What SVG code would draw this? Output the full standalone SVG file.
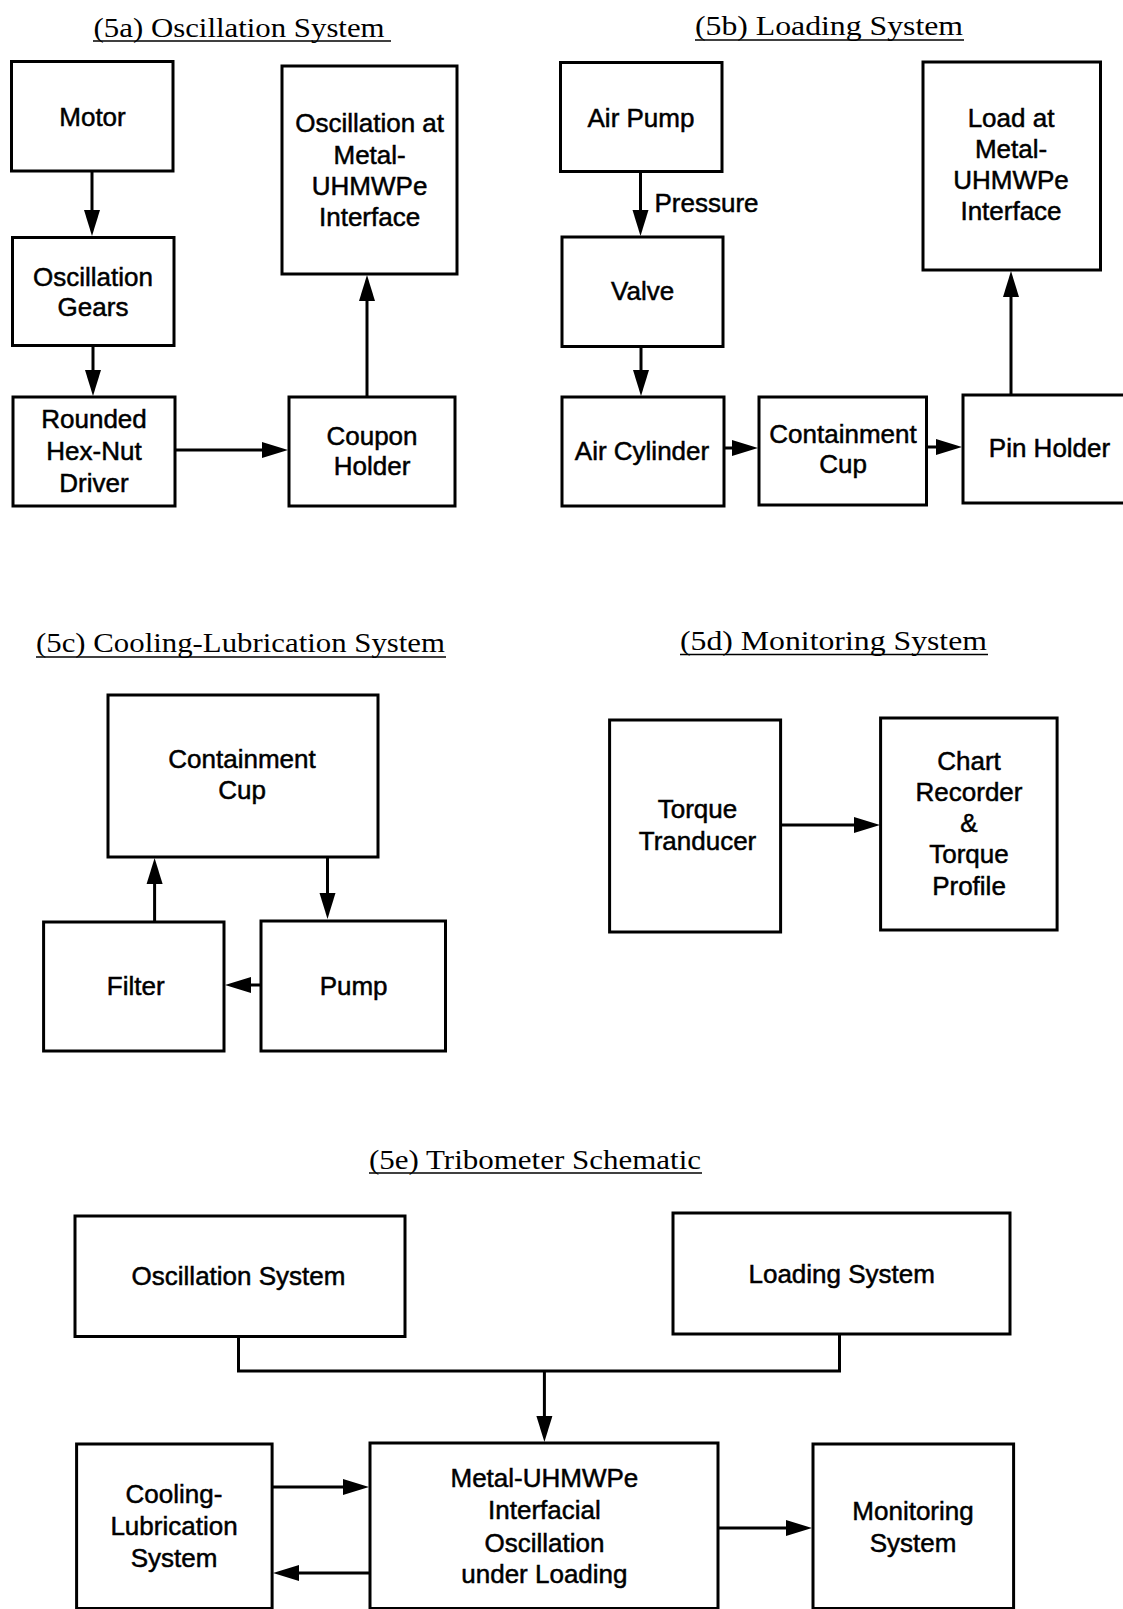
<svg xmlns="http://www.w3.org/2000/svg" width="1123" height="1609" viewBox="0 0 1123 1609">
<style>
.bg{fill:#fff}
.box{fill:#fff;stroke:#000;stroke-width:3}
.t{font-family:"Liberation Sans",Arial,Helvetica,sans-serif;font-size:26px;fill:#000;stroke:#000;stroke-width:0.5;text-anchor:middle}
.ts{font-family:"Liberation Sans",Arial,Helvetica,sans-serif;font-size:26px;fill:#000;stroke:#000;stroke-width:0.5}
.title{font-family:"Liberation Serif","Times New Roman",serif;font-size:27px;fill:#000}
.ul{stroke:#000;stroke-width:1.6}
.c{fill:none;stroke:#000;stroke-width:3}
.a{fill:none;stroke:#000;stroke-width:3;marker-end:url(#ah)}
</style>
<defs>
<marker id="ah" markerUnits="userSpaceOnUse" markerWidth="26" markerHeight="17" refX="6" refY="8.5" orient="auto">
<path d="M0,0.5 L26,8.5 L0,16.5 z" fill="#000"/>
</marker>
</defs>
<rect class="bg" x="0" y="0" width="1123" height="1609"/>

<g id="titles">
<text class="title" x="93.6" y="37" textLength="291" lengthAdjust="spacingAndGlyphs">(5a) Oscillation System</text>
<line class="ul" x1="93" y1="41" x2="391" y2="41"/>
<text class="title" x="695" y="35" textLength="268" lengthAdjust="spacingAndGlyphs">(5b) Loading System</text>
<line class="ul" x1="695" y1="40" x2="964" y2="40"/>
<text class="title" x="36" y="652" textLength="409" lengthAdjust="spacingAndGlyphs">(5c) Cooling-Lubrication System</text>
<line class="ul" x1="36" y1="657" x2="446" y2="657"/>
<text class="title" x="680" y="650" textLength="307" lengthAdjust="spacingAndGlyphs">(5d) Monitoring System</text>
<line class="ul" x1="680" y1="654.5" x2="988" y2="654.5"/>
<text class="title" x="369" y="1169" textLength="332" lengthAdjust="spacingAndGlyphs">(5e) Tribometer Schematic</text>
<line class="ul" x1="369" y1="1173" x2="702" y2="1173"/>
</g>

<!-- 5a -->
<g id="motor"><rect class="box" x="11.5" y="61.5" width="161.5" height="109.5"/><text class="t" x="92.5" y="126">Motor</text></g>
<g id="osc-gears"><rect class="box" x="12.5" y="237.5" width="161.5" height="108"/><text class="t" x="93" y="286">Oscillation</text><text class="t" x="93" y="316">Gears</text></g>
<g id="hex-nut"><rect class="box" x="13" y="397" width="162" height="109"/><text class="t" x="94" y="428">Rounded</text><text class="t" x="94" y="460">Hex-Nut</text><text class="t" x="94" y="491.5">Driver</text></g>
<g id="coupon"><rect class="box" x="289" y="397" width="166" height="109"/><text class="t" x="372" y="445">Coupon</text><text class="t" x="372" y="475">Holder</text></g>
<g id="osc-interface"><rect class="box" x="282" y="66" width="175" height="208"/><text class="t" x="369.6" y="131.7">Oscillation at</text><text class="t" x="369.6" y="164">Metal-</text><text class="t" x="369.6" y="195">UHMWPe</text><text class="t" x="369.6" y="226">Interface</text></g>

<!-- 5b -->
<g id="air-pump"><rect class="box" x="560.5" y="62.5" width="161.5" height="109"/><text class="t" x="641" y="126.7">Air Pump</text></g>
<g id="valve"><rect class="box" x="562" y="237" width="161" height="109.5"/><text class="t" x="642.6" y="300">Valve</text></g>
<g id="air-cylinder"><rect class="box" x="562" y="397" width="162" height="109"/><text class="t" x="642" y="460">Air Cylinder</text></g>
<g id="containment-b"><rect class="box" x="759" y="397" width="167.5" height="108"/><text class="t" x="843" y="443">Containment</text><text class="t" x="843" y="473">Cup</text></g>
<g id="pin-holder"><rect class="box" x="963" y="395" width="170" height="108"/><text class="t" x="1049.5" y="457">Pin Holder</text></g>
<g id="load-interface"><rect class="box" x="923" y="62" width="177.5" height="208"/><text class="t" x="1011" y="126.7">Load at</text><text class="t" x="1011" y="158">Metal-</text><text class="t" x="1011" y="189">UHMWPe</text><text class="t" x="1011" y="220">Interface</text></g>

<!-- 5c -->
<g id="containment-c"><rect class="box" x="108" y="695" width="270" height="162"/><text class="t" x="242" y="768">Containment</text><text class="t" x="242" y="799">Cup</text></g>
<g id="pump"><rect class="box" x="261" y="921" width="184.5" height="130"/><text class="t" x="353.6" y="995">Pump</text></g>
<g id="filter"><rect class="box" x="43.6" y="922" width="180.4" height="129"/><text class="t" x="135.7" y="995">Filter</text></g>

<!-- 5d -->
<g id="torque-transducer"><rect class="box" x="609.6" y="720" width="171" height="212"/><text class="t" x="697.5" y="818">Torque</text><text class="t" x="697.5" y="850">Tranducer</text></g>
<g id="chart-recorder"><rect class="box" x="880.6" y="718" width="176.5" height="212"/><text class="t" x="969" y="770">Chart</text><text class="t" x="969" y="801">Recorder</text><text class="t" x="969" y="832">&amp;</text><text class="t" x="969" y="863">Torque</text><text class="t" x="969" y="895">Profile</text></g>

<!-- 5e -->
<g id="oscillation-system"><rect class="box" x="75" y="1216" width="330" height="120.5"/><text class="t" x="238.5" y="1285">Oscillation System</text></g>
<g id="loading-system"><rect class="box" x="673" y="1213" width="337" height="121"/><text class="t" x="841.7" y="1283">Loading System</text></g>
<g id="interfacial"><rect class="box" x="370" y="1443" width="348" height="165.5"/><text class="t" x="544.4" y="1487">Metal-UHMWPe</text><text class="t" x="544.4" y="1519">Interfacial</text><text class="t" x="544.4" y="1552">Oscillation</text><text class="t" x="544.4" y="1583">under Loading</text></g>
<g id="cooling-lubrication"><rect class="box" x="76.6" y="1444" width="195.5" height="164.5"/><text class="t" x="174" y="1503">Cooling-</text><text class="t" x="174" y="1535">Lubrication</text><text class="t" x="174" y="1567">System</text></g>
<g id="monitoring-system"><rect class="box" x="813" y="1444" width="200.6" height="164.5"/><text class="t" x="913" y="1520">Monitoring</text><text class="t" x="913" y="1552">System</text></g>

<g id="connectors">
<line class="a" x1="92" y1="171" x2="92" y2="216"/>
<line class="a" x1="93" y1="346" x2="93" y2="376"/>
<line class="a" x1="175" y1="450" x2="268" y2="450"/>
<line class="a" x1="367" y1="397" x2="367" y2="295"/>
<line class="a" x1="640.5" y1="172" x2="640.5" y2="216"/>
<text class="ts" x="654.5" y="211.7">Pressure</text>
<line class="a" x1="641" y1="347" x2="641" y2="376"/>
<line class="a" x1="724" y1="448" x2="738" y2="448"/>
<line class="a" x1="927" y1="447" x2="942" y2="447"/>
<line class="a" x1="1011" y1="395" x2="1011" y2="291"/>
<line class="a" x1="327.5" y1="857" x2="327.5" y2="899"/>
<line class="a" x1="261" y1="985" x2="245" y2="985"/>
<line class="a" x1="154.6" y1="921" x2="154.6" y2="878"/>
<line class="a" x1="781" y1="825" x2="860" y2="825"/>
<polyline class="c" points="238.5,1337 238.5,1371 839.5,1371 839.5,1334"/>
<line class="a" x1="544.4" y1="1371" x2="544.4" y2="1422"/>
<line class="a" x1="272" y1="1487" x2="349" y2="1487"/>
<line class="a" x1="370" y1="1573" x2="293" y2="1573"/>
<line class="a" x1="718" y1="1528" x2="792" y2="1528"/>
</g>
</svg>
